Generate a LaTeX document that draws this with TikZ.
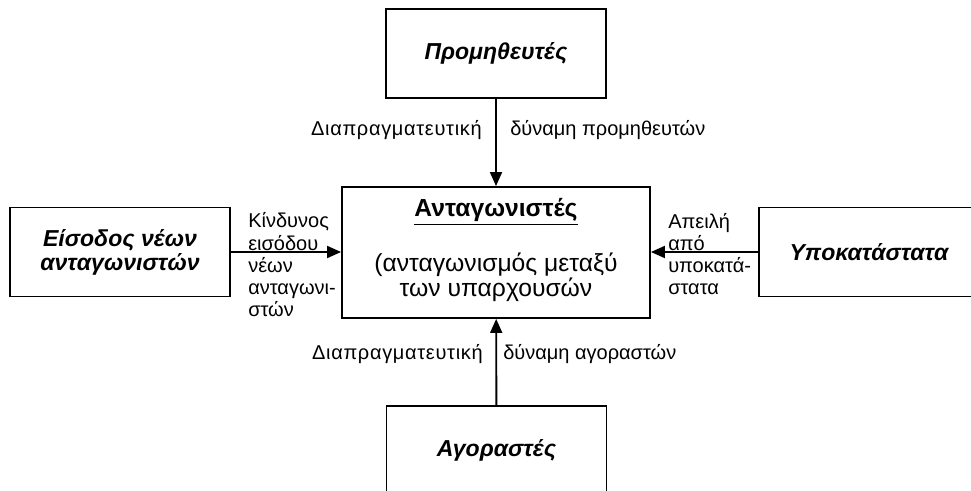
\documentclass[tikz,border=0pt]{standalone}
\usepackage{fontspec}
\setmainfont{Liberation Sans}
\usetikzlibrary{arrows.meta, positioning}
\tikzset{>={Triangle[length=10.5pt,width=9pt]}}

\begin{document}
\begin{tikzpicture}[x=0.75pt, y=-0.75pt,
  every node/.style={font=\fontsize{15}{16.7}\selectfont},
  force/.style={draw, line width=1.4pt, minimum width=165pt, minimum height=66.75pt, align=center, font=\fontsize{17.3}{18}\selectfont\bfseries\itshape},
  rivalry/.style={draw, line width=1.4pt, minimum width=231pt, minimum height=98.25pt},
  pressure/.style={->, line width=1.4pt},
  note/.style={inner sep=0pt, align=left},
  spread/.style={font=\fontsize{15}{16.7}\selectfont\addfontfeature{LetterSpace=3.4}}
]
\useasboundingbox (0,0) rectangle (971,491);

% Boxes of the five forces
\node[rivalry] (rivals) at (496,252.5) {};
\node[force] (suppliers) at (496,53.5) {Προμηθευτές};
\node[force] (buyers) at (496.5,450.5) {Αγοραστές};
\node[force] (entrants) at (120,252) {Είσοδος νέων\\ανταγωνιστών};
\node[force] (substitutes) at (869,252) {Υποκατάστατα};

% Text inside the central box
\node[inner sep=0pt, anchor=base, font=\fontsize{18.5}{18.5}\selectfont\bfseries] (rivalsTitle) at (496,217) {\underline{Ανταγωνιστές}};
\node[inner sep=0pt, anchor=base, align=center, font=\fontsize{18.5}{15.9}\selectfont] (rivalsNote) at (496,297) {(ανταγωνισμός μεταξύ\\των υπαρχουσών};

% Arrows into the central box
\coordinate (entrantsIn) at (rivals.west |- entrants.east);
\coordinate (substitutesIn) at (rivals.east |- substitutes.west);
\draw[pressure] (suppliers) -- (rivals);
\draw[pressure] (buyers) -- (rivals);
\draw[pressure] (entrants.east) -- (entrantsIn);
\draw[pressure] (substitutes.west) -- (substitutesIn);

% Labels of the arrows
\node[note, spread, anchor=base east] (supLeft) at (482,136) {Διαπραγματευτική};
\node[note, anchor=base west] (supRight) at (510,136) {δύναμη προμηθευτών};
\node[note, spread, anchor=base east] (buyLeft) at (483,360) {Διαπραγματευτική};
\node[note, anchor=base west] (buyRight) at (503,360) {δύναμη αγοραστών};
\node[note, anchor=base west] (entLabel) at (248,317) {Κίνδυνος\\εισόδου\\νέων\\ανταγωνι-\\στών};
\node[note, anchor=base west] (subLabel) at (668,295) {Απειλή\\από\\υποκατά-\\στατα};

\end{tikzpicture}
\end{document}
